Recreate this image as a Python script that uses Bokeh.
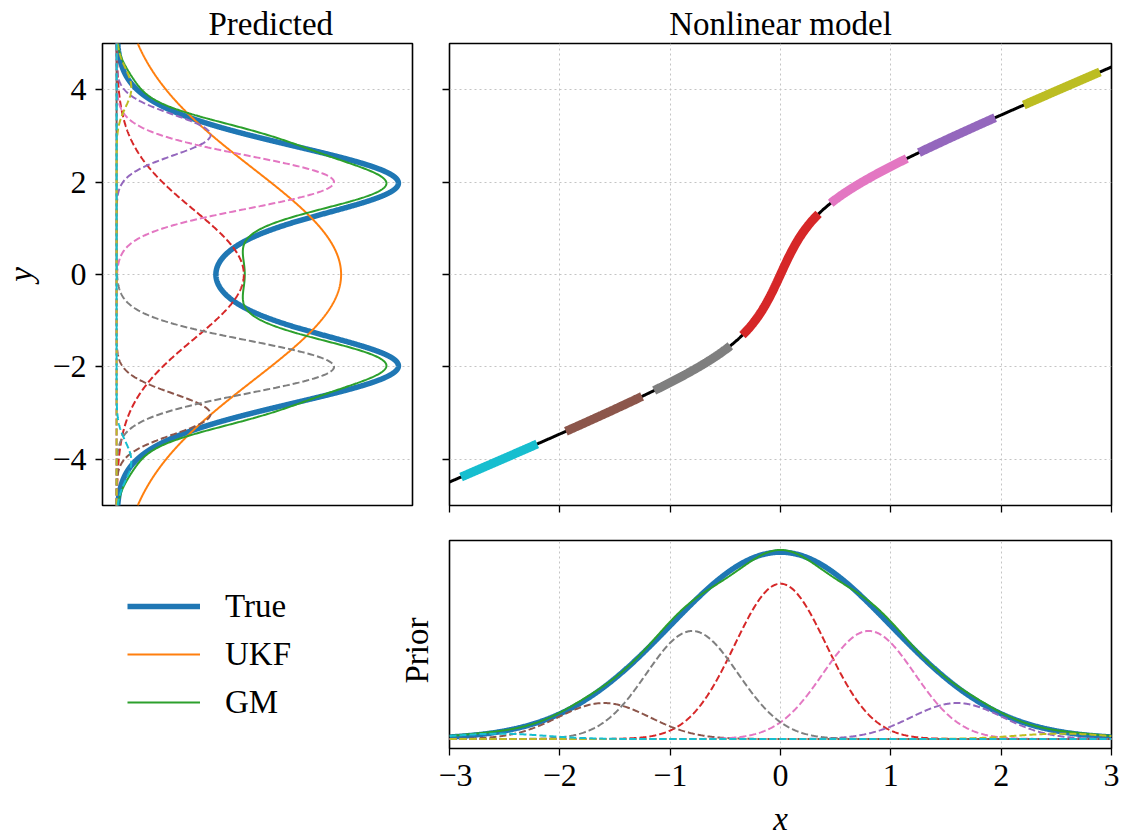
import numpy as np
from bokeh.plotting import figure
from bokeh.models import Range1d, Legend, LegendItem, Label
from bokeh.layouts import row, column
from bokeh.embed import file_html
from bokeh.resources import INLINE

# ---------------- values ----------------
# Gaussian-mixture components of the prior (x space)
comp_prior_means = [0.0, 1.6, -1.6, 0.8, -0.8, 2.55, -2.55]
comp_prior_sigmas = [0.415, 0.415, 0.415, 0.415, 0.415, 0.415, 0.415]
comp_weights = [0.345, 0.08, 0.08, 0.24, 0.24, 0.012, 0.012]
# predicted components (y space)
comp_pred_means = [0.0, 3.02, -3.02, 2.0, -2.0, 4.04, -4.04]
comp_pred_sigmas = [1.4, 0.44, 0.44, 0.57, 0.57, 0.42, 0.42]
# half width of the highlighted piece of the model curve per component
comp_segment_halfwidths = [0.345, 0.345, 0.345, 0.345, 0.345, 0.345, 0.345]
# true prior and UKF prediction
true_prior_mean = 0.0
true_prior_sigma = 1.0
ukf_pred_mean = 0.0
ukf_pred_sigma = 2.3
# nonlinear model y = x + arctan(gain * x)
model_gain = 4.2
x_ticks = [-3, -2, -1, 0, 1, 2, 3]
x_tick_labels = ["\u22123", "\u22122", "\u22121", "0", "1", "2", "3"]
y_ticks = [-4, -2, 0, 2, 4]
y_tick_labels = ["\u22124", "\u22122", "0", "2", "4"]
series_labels = ["True", "UKF", "GM"]
panel_titles = ["Predicted", "Nonlinear model"]
prior_axis_label = "Prior"

# ---------------- styles ----------------
FONT = "Liberation Serif"
TRUE_C, UKF_C, GM_C = "#1f77b4", "#ff7f0e", "#2ca02c"
COMP_C = ["#d62728", "#9467bd", "#8c564b", "#e377c2", "#7f7f7f", "#bcbd22", "#17becf"]


def gauss(t, m, s):
    return np.exp(-0.5 * ((t - m) / s) ** 2) / (s * np.sqrt(2 * np.pi))


def model(x):
    return x + np.arctan(model_gain * x)


def model_slope(x):
    return 1 + model_gain / (1 + (model_gain * x) ** 2)


def style(p):
    p.outline_line_color = "black"
    p.outline_line_width = 1.6
    p.background_fill_color = "white"
    p.border_fill_color = "white"
    for ax in p.axis:
        ax.axis_line_color = None
        ax.major_tick_out = 7
        ax.major_tick_in = 0
        ax.minor_tick_out = 0
        ax.minor_tick_in = 0
        ax.major_tick_line_color = "black"
        ax.major_tick_line_width = 1.3
        ax.major_label_text_font = FONT
        ax.major_label_text_font_size = "32px"
        ax.major_label_text_color = "black"
        ax.axis_label_text_font = FONT
        ax.axis_label_text_font_size = "33px"
        ax.axis_label_text_color = "black"
        ax.axis_label_text_font_style = "italic"
    for g in p.grid:
        g.grid_line_color = "#c4c4c4"
        g.grid_line_dash = "2 3"
        g.grid_line_width = 1
    p.title.text_font = FONT
    p.title.text_font_size = "33px"
    p.title.text_font_style = "normal"
    p.title.text_color = "black"
    p.title.align = "center"
    p.title.standoff = 4


# ---------------- predicted panel ----------------
yy = np.linspace(-5, 5, 1001)
xs_true = np.linspace(-4.2, 4.2, 4001)
true_pred_y = model(xs_true)
true_pred_p = gauss(xs_true, true_prior_mean, true_prior_sigma) / model_slope(xs_true)
ukf_pred_p = gauss(yy, ukf_pred_mean, ukf_pred_sigma)
comp_pred = [w * gauss(yy, m, s) for w, m, s in zip(comp_weights, comp_pred_means, comp_pred_sigmas)]
gm_pred = np.sum(comp_pred, axis=0)
M1 = max(true_pred_p.max(), gm_pred.max(), ukf_pred_p.max())

p1 = figure(width=438, height=525, x_range=Range1d(-0.05 * M1, 1.05 * M1), y_range=Range1d(-5, 5),
            output_backend="svg", toolbar_location=None, title=panel_titles[0],
            min_border_left=98, min_border_right=26, min_border_top=43, min_border_bottom=20)
style(p1)
p1.title.align = "left"
p1.title.offset = 106
p1.xaxis.visible = False
p1.xgrid.visible = False
p1.yaxis.ticker = y_ticks
p1.yaxis.major_label_overrides = dict(zip(y_ticks, y_tick_labels))
p1.yaxis.major_label_standoff = 9
p1.yaxis.axis_label = "y"
p1.yaxis.axis_label_standoff = 10

p1.line(true_pred_p, true_pred_y, line_color=TRUE_C, line_width=5.5)
p1.line(ukf_pred_p, yy, line_color=UKF_C, line_width=2)
p1.line(gm_pred, yy, line_color=GM_C, line_width=2)
for c, d in zip(COMP_C, comp_pred):
    p1.line(d, yy, line_color=c, line_width=2, line_dash="7 3")

# ---------------- legend area (bottom left) ----------------
pleg = figure(width=438, height=314, x_range=Range1d(0, 1), y_range=Range1d(0, 1),
              output_backend="svg", toolbar_location=None, frame_align=False,
              min_border_left=0, min_border_right=0, min_border_top=0, min_border_bottom=0)
pleg.axis.visible = False
pleg.grid.visible = False
pleg.outline_line_color = None
pleg.border_fill_color = "white"
# key renderers carry no visible data; they only supply the legend swatches
k_true = pleg.line([np.nan], [np.nan], line_color=TRUE_C, line_width=5.5)
k_ukf = pleg.line([np.nan], [np.nan], line_color=UKF_C, line_width=2)
k_gm = pleg.line([np.nan], [np.nan], line_color=GM_C, line_width=2)
legend = Legend(items=[LegendItem(label=series_labels[0], renderers=[k_true]),
                       LegendItem(label=series_labels[1], renderers=[k_ukf]),
                       LegendItem(label=series_labels[2], renderers=[k_gm])],
                location=(127, 117), orientation="vertical",
                glyph_width=73, glyph_height=40, label_height=40, label_standoff=25,
                spacing=8, padding=0, margin=0, border_line_color=None,
                background_fill_alpha=0, label_text_font=FONT, label_text_font_size="33px",
                label_text_color="black")
pleg.add_layout(legend, "center")
prior_label = Label(x=416, y=189, x_units="screen", y_units="screen", text=prior_axis_label,
                    angle=90, angle_units="deg", text_align="center", text_baseline="middle",
                    text_font=FONT, text_font_size="33px", text_color="black")
pleg.add_layout(prior_label)

# ---------------- nonlinear model panel ----------------
p2 = figure(width=688, height=525, x_range=Range1d(-3, 3), y_range=p1.y_range,
            output_backend="svg", toolbar_location=None, title=panel_titles[1],
            min_border_left=11, min_border_right=15, min_border_top=43, min_border_bottom=20)
style(p2)
p2.xaxis.ticker = x_ticks
p2.yaxis.ticker = y_ticks
p2.xaxis.major_label_overrides = {t: "" for t in x_ticks}
p2.yaxis.major_label_overrides = {t: "" for t in y_ticks}
p2.xaxis.major_label_standoff = 0
p2.yaxis.major_label_standoff = 0

xm = np.linspace(-3, 3, 801)
p2.line(xm, model(xm), line_color="black", line_width=3)
for c, m, h in zip(COMP_C, comp_prior_means, comp_segment_halfwidths):
    xseg = np.linspace(m - h, m + h, 80)
    p2.line(xseg, model(xseg), line_color=c, line_width=9)

# ---------------- prior panel ----------------
xp = np.linspace(-3, 3, 801)
true_prior = gauss(xp, true_prior_mean, true_prior_sigma)
comp_prior = [w * gauss(xp, m, s) for w, m, s in zip(comp_weights, comp_prior_means, comp_prior_sigmas)]
gm_prior = np.sum(comp_prior, axis=0)
M3 = max(true_prior.max(), gm_prior.max())

p3 = figure(width=688, height=314, x_range=p2.x_range, y_range=Range1d(-0.05 * M3, 1.05 * M3),
            output_backend="svg", toolbar_location=None,
            min_border_left=11, min_border_right=15, min_border_top=15, min_border_bottom=87)
style(p3)
p3.yaxis.visible = False
p3.ygrid.visible = False
p3.xaxis.ticker = x_ticks
p3.xaxis.major_label_overrides = dict(zip(x_ticks, x_tick_labels))
p3.xaxis.major_label_standoff = 9
p3.xaxis.axis_label = "x"
p3.xaxis.axis_label_standoff = 12

p3.line(xp, true_prior, line_color=TRUE_C, line_width=5.5)
p3.line(xp, gm_prior, line_color=GM_C, line_width=2)
for c, d in zip(COMP_C, comp_prior):
    p3.line(xp, d, line_color=c, line_width=2, line_dash="7 3")

layout = row(column(p1, pleg), column(p2, p3))
open("out.html", "w").write(file_html(layout, INLINE))
